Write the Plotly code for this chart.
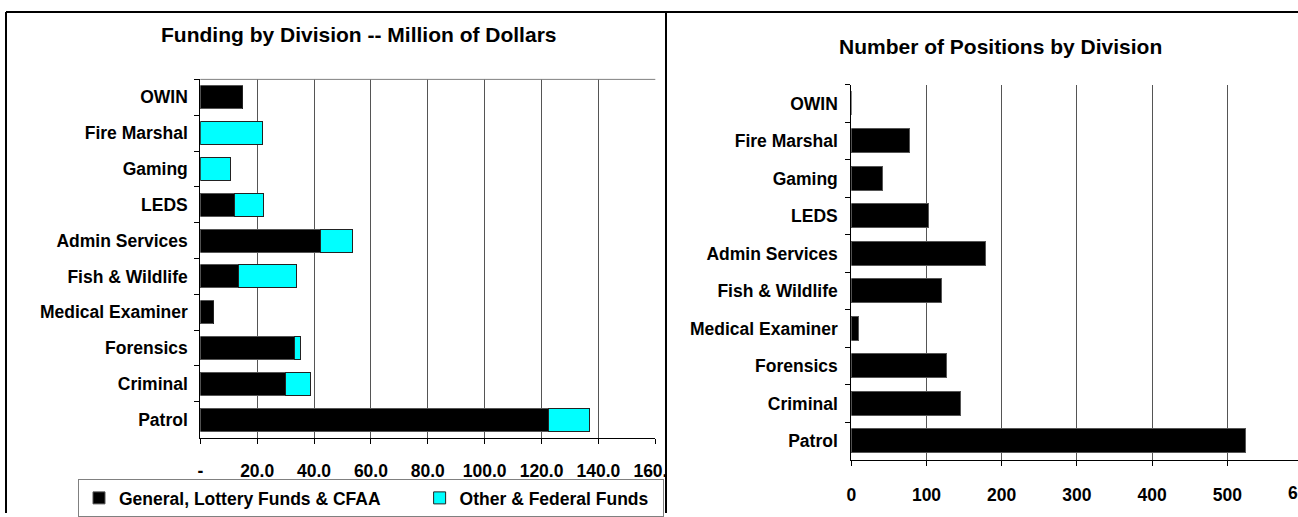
import plotly.graph_objects as go

# Divisions, listed top to bottom as they appear on both panels
divisions = ["OWIN", "Fire Marshal", "Gaming", "LEDS", "Admin Services",
             "Fish & Wildlife", "Medical Examiner", "Forensics", "Criminal", "Patrol"]

# Funding (million $)
general_funds = [14.7, 0.0, 0.0, 12.1, 42.4, 13.6, 4.8, 33.2, 30.1, 122.3]
other_funds = [0.0, 21.8, 10.7, 10.0, 11.2, 20.3, 0.0, 1.9, 8.8, 14.7]

# Number of positions
positions = [0, 78, 42, 102, 178, 120, 10, 126, 145, 524]

funding_ticks = [0, 20, 40, 60, 80, 100, 120, 140, 160]
funding_ticktext = ["-", "20.0", "40.0", "60.0", "80.0", "100.0", "120.0", "140.0", "160.0"]
position_ticks = [0, 100, 200, 300, 400, 500]
position_extra_tick = 600

W, H = 1298, 517
FONT = "Liberation Sans, Arial, sans-serif"


def fx(p):
    return p / W


def fy(p):
    return 1 - p / H


left_x_dom = [fx(200.3), fx(655.3)]
left_y_dom = [fy(441), fy(80)]
right_x_dom = [fx(851.3), 1.0]
right_y_dom = [fy(463.3), fy(85.3)]
right_range = [0, 594]

fig = go.Figure()

fig.add_trace(go.Bar(
    y=divisions, x=general_funds, orientation="h",
    name="General, Lottery Funds & CFAA" + "\u00a0" * 7,
    marker=dict(color="black", line=dict(color="#555555", width=1)),
    xaxis="x", yaxis="y",
))
fig.add_trace(go.Bar(
    y=divisions, x=other_funds, orientation="h",
    name="Other & Federal Funds" + "\u00a0" * 2,
    marker=dict(color="#00FFFF", line=dict(color="#222222", width=1)),
    xaxis="x", yaxis="y",
))
fig.add_trace(go.Bar(
    y=divisions, x=positions, orientation="h",
    name="Positions", showlegend=False,
    marker=dict(color="black", line=dict(color="#555555", width=1)),
    xaxis="x2", yaxis="y2",
))

tick_font = dict(family=FONT, size=17.5, color="black", weight="bold")

common_x = dict(
    showline=True, linecolor="black", linewidth=1,
    ticks="outside", ticklen=5, tickcolor="black", tickwidth=1,
    showgrid=True, gridcolor="#555555", gridwidth=1,
    zeroline=False, tickfont=tick_font, fixedrange=True,
)
common_y = dict(
    type="category", autorange="reversed",
    showline=True, linecolor="black", linewidth=1,
    ticks="outside", ticklen=5, tickcolor="black", tickwidth=1,
    tickson="boundaries", showgrid=False, zeroline=False,
    tickfont=tick_font, fixedrange=True,
)

fig.update_layout(
    width=W, height=H,
    margin=dict(l=0, r=0, t=0, b=0),
    paper_bgcolor="white", plot_bgcolor="white",
    template="none",
    barmode="stack", bargap=0.36,
    font=dict(family=FONT, color="black"),
    xaxis=dict(domain=left_x_dom, anchor="y", range=[0, 160],
               tickvals=funding_ticks, ticktext=funding_ticktext,
               ticklabelstandoff=12, **common_x),
    yaxis=dict(domain=left_y_dom, anchor="x", ticklabelstandoff=8, **common_y),
    xaxis2=dict(domain=right_x_dom, anchor="y2", range=right_range,
                tickvals=position_ticks, ticklabelstandoff=14, **common_x),
    yaxis2=dict(domain=right_y_dom, anchor="x2", ticklabelstandoff=9, **common_y),
    legend=dict(
        orientation="h", x=fx(78), y=fy(483), xanchor="left", yanchor="top",
        bgcolor="white", bordercolor="#808080", borderwidth=1,
        font=dict(family=FONT, size=17.5, color="black", weight="bold"),
        traceorder="normal",
    ),
    showlegend=True,
)

# Panel titles
fig.add_annotation(
    text="Funding by Division -- Million of Dollars",
    x=fx(358), y=fy(35), xref="paper", yref="paper",
    xanchor="center", yanchor="middle", showarrow=False,
    font=dict(family=FONT, size=21, color="black", weight="bold"),
)
fig.add_annotation(
    text="Number of Positions by Division",
    x=fx(1000), y=fy(47), xref="paper", yref="paper",
    xanchor="center", yanchor="middle", showarrow=False,
    font=dict(family=FONT, size=21, color="black", weight="bold"),
)

# Last position tick label sits past the right edge of the window
extra_frac = (position_extra_tick - right_range[0]) / (right_range[1] - right_range[0])
fig.add_annotation(
    text=str(position_extra_tick),
    x=right_x_dom[0] + extra_frac * (right_x_dom[1] - right_x_dom[0]),
    y=fy(497), xref="paper", yref="paper",
    xanchor="center", yanchor="middle", showarrow=False,
    font=tick_font,
)

shapes = [
    # light frame along the top of the funding plot area
    dict(type="line", xref="x domain", yref="y domain", x0=0, x1=1, y0=1, y1=1,
         line=dict(color="#808080", width=1), layer="above"),
    # hide overflow of the last funding tick label beyond the panel edge
    dict(type="rect", xref="paper", yref="paper",
         x0=fx(665), x1=fx(695), y0=fy(482), y1=fy(446),
         fillcolor="white", line=dict(width=0), layer="above"),
    # panel frames
    dict(type="line", xref="paper", yref="paper", x0=fx(6), x1=fx(6), y0=fy(12), y1=0,
         line=dict(color="black", width=2), layer="above"),
    dict(type="line", xref="paper", yref="paper", x0=fx(6), x1=1, y0=fy(12), y1=fy(12),
         line=dict(color="black", width=2), layer="above"),
    dict(type="line", xref="paper", yref="paper", x0=fx(666), x1=fx(666), y0=fy(12), y1=0,
         line=dict(color="black", width=2), layer="above"),
]
fig.update_layout(shapes=shapes)

fig.write_html("out.html")
